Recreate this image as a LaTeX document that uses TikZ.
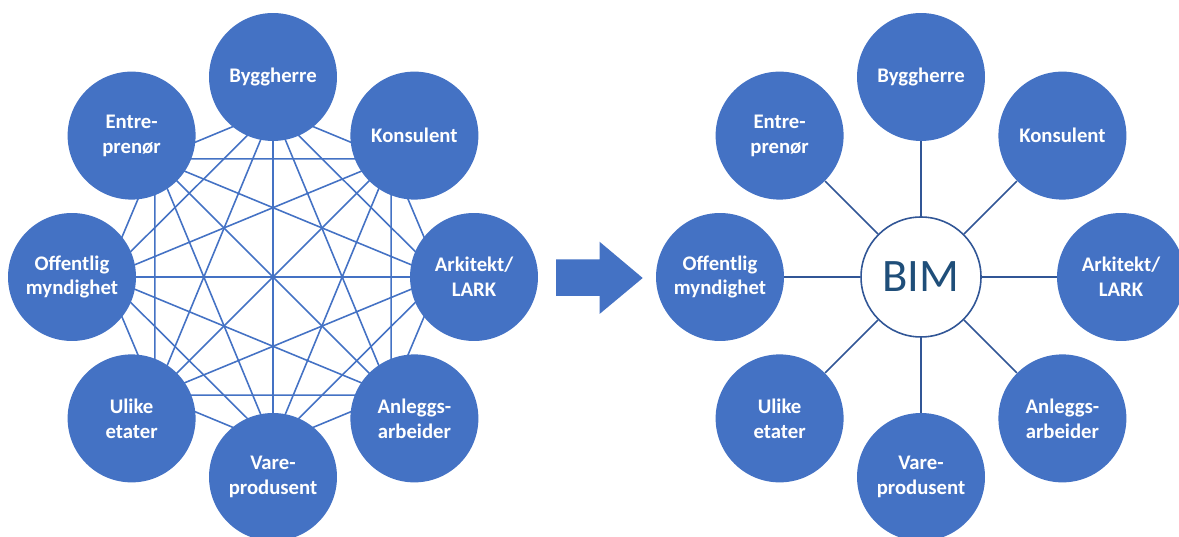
\documentclass[tikz,border=0pt]{standalone}
\usepackage{fontspec}
\setmainfont{Carlito}
\usetikzlibrary{calc,backgrounds}

\definecolor{roleblue}{RGB}{68,114,196}
\definecolor{bimline}{RGB}{49,86,150}
\definecolor{bimtext}{RGB}{31,78,121}

\tikzset{
  role/.style={circle, fill=roleblue, minimum size=2.56cm, inner sep=0pt,
               text=white, align=center,
               font=\bfseries\fontsize{11.8}{14.2}\selectfont},
  hub/.style={circle, draw=bimline, line width=0.9pt, fill=white,
              minimum size=2.4cm, inner sep=0pt, text=bimtext,
              font=\fontsize{26.5}{30}\selectfont},
  mesh/.style={roleblue, line width=0.9pt},
  spoke/.style={bimline, line width=0.9pt}
}

\begin{document}
\begin{tikzpicture}[x=0.02cm, y=0.02cm]
\useasboundingbox (0,0) rectangle (1179,537);

% left: everybody talks to everybody
\coordinate (lc) at (273,260);
\node[role] (lbygg)  at (273,460)   {Byggherre};
\node[role] (lkons)  at (414.4,401.4) {Konsulent};
\node[role] (lark)   at (474,260)   {Arkitekt/\\LARK};
\node[role] (lanl)   at (414.4,118.6) {Anleggs-\\arbeider};
\node[role] (lvare)  at (273,60)    {Vare-\\produsent};
\node[role] (lulike) at (131.6,118.6) {Ulike\\etater};
\node[role] (loff)   at (72,260)    {Offentlig\\myndighet};
\node[role] (lentre) at (131.6,401.4) {Entre-\\prenør};

% line ends sit under the circles, a bit towards the middle
\coordinate (lbygg-in)  at ($(lbygg)!0.165!(lc)$);
\coordinate (lkons-in)  at ($(lkons)!0.165!(lc)$);
\coordinate (lark-in)   at ($(lark)!0.165!(lc)$);
\coordinate (lanl-in)   at ($(lanl)!0.165!(lc)$);
\coordinate (lvare-in)  at ($(lvare)!0.165!(lc)$);
\coordinate (lulike-in) at ($(lulike)!0.165!(lc)$);
\coordinate (loff-in)   at ($(loff)!0.165!(lc)$);
\coordinate (lentre-in) at ($(lentre)!0.165!(lc)$);

\begin{scope}[on background layer]
\draw[mesh] (lbygg-in) -- (lkons-in) (lbygg-in) -- (lark-in)
            (lbygg-in) -- (lanl-in) (lbygg-in) -- (lvare-in)
            (lbygg-in) -- (lulike-in) (lbygg-in) -- (loff-in)
            (lbygg-in) -- (lentre-in);
\draw[mesh] (lkons-in) -- (lark-in) (lkons-in) -- (lanl-in)
            (lkons-in) -- (lvare-in) (lkons-in) -- (lulike-in)
            (lkons-in) -- (loff-in) (lkons-in) -- (lentre-in);
\draw[mesh] (lark-in) -- (lanl-in) (lark-in) -- (lvare-in)
            (lark-in) -- (lulike-in) (lark-in) -- (loff-in)
            (lark-in) -- (lentre-in);
\draw[mesh] (lanl-in) -- (lvare-in) (lanl-in) -- (lulike-in)
            (lanl-in) -- (loff-in) (lanl-in) -- (lentre-in);
\draw[mesh] (lvare-in) -- (lulike-in) (lvare-in) -- (loff-in)
            (lvare-in) -- (lentre-in);
\draw[mesh] (lulike-in) -- (loff-in) (lulike-in) -- (lentre-in);
\draw[mesh] (loff-in) -- (lentre-in);
\end{scope}

% big arrow
\fill[roleblue] (556,277.5) -- (599.5,277.5) -- (599.5,295.3) -- (642.7,259)
                -- (599.5,223) -- (599.5,241) -- (556,241) -- cycle;

% right: everybody talks to BIM
\node[hub]  (bim)    at (921,260)   {BIM};
\node[role] (rbygg)  at (921,460)   {Byggherre};
\node[role] (rkons)  at (1062.4,401.4) {Konsulent};
\node[role] (rark)   at (1121,260)  {Arkitekt/\\LARK};
\node[role] (ranl)   at (1062.4,118.6) {Anleggs-\\arbeider};
\node[role] (rvare)  at (921,60)    {Vare-\\produsent};
\node[role] (rulike) at (779.6,118.6) {Ulike\\etater};
\node[role] (roff)   at (720,260)   {Offentlig\\myndighet};
\node[role] (rentre) at (779.6,401.4) {Entre-\\prenør};

\draw[spoke] (bim) -- (rbygg);
\draw[spoke] (bim) -- (rkons);
\draw[spoke] (bim) -- (rark);
\draw[spoke] (bim) -- (ranl);
\draw[spoke] (bim) -- (rvare);
\draw[spoke] (bim) -- (rulike);
\draw[spoke] (bim) -- (roff);
\draw[spoke] (bim) -- (rentre);
\end{tikzpicture}
\end{document}
